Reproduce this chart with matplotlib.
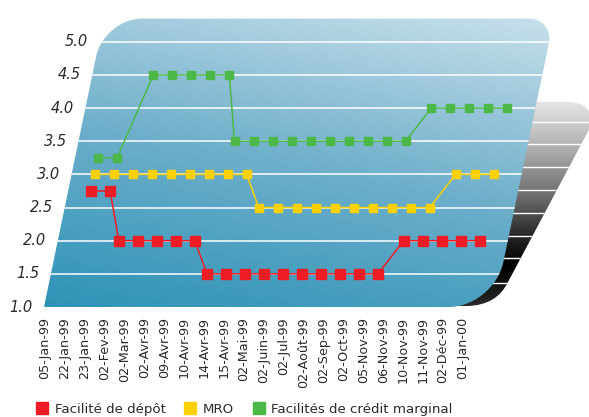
import matplotlib
matplotlib.use('agg')
import numpy as np
import matplotlib.pyplot as plt
from matplotlib.path import Path
from matplotlib.patches import PathPatch
from matplotlib.transforms import Affine2D
from matplotlib.colors import LinearSegmentedColormap
from matplotlib.lines import Line2D

# taux directeurs 1999
dates = ['05-Jan-99', '22-Jan-99', '23-Jan-99', '02-Fev-99', '02-Mar-99',
         '02-Avr-99', '09-Avr-99', '10-Avr-99', '14-Avr-99', '15-Avr-99',
         '02-Mai-99', '02-Juin-99', '02-Jul-99', '02-Août-99', '02-Sep-99',
         '02-Oct-99', '05-Nov-99', '06-Nov-99', '10-Nov-99', '11-Nov-99',
         '02-Déc-99', '01-Jan-00']
depot = [2.75, 2.75, 2.0, 2.0, 2.0, 2.0, 2.0, 1.5, 1.5, 1.5, 1.5,
         1.5, 1.5, 1.5, 1.5, 1.5, 1.5, 2.0, 2.0, 2.0, 2.0, 2.0]
mro = [3.0, 3.0, 3.0, 3.0, 3.0, 3.0, 3.0, 3.0, 3.0, 2.5, 2.5,
       2.5, 2.5, 2.5, 2.5, 2.5, 2.5, 2.5, 2.5, 3.0, 3.0, 3.0]
marginal = [3.25, 3.25, 4.5, 4.5, 4.5, 4.5, 4.5, 3.5, 3.5, 3.5, 3.5,
            3.5, 3.5, 3.5, 3.5, 3.5, 3.5, 4.0, 4.0, 4.0, 4.0, 4.0]
yticks = [1.0, 1.5, 2.0, 2.5, 3.0, 3.5, 4.0, 4.5, 5.0]
ylabels = ['1.0', '1.5', '2.0', '2.5', '3.0', '3.5', '4.0', '4.5', '5.0']
series = [('Facilité de dépôt', depot, '#ee1c25', 7.0),
          ('MRO', mro, '#fdd000', 6.0),
          ('Facilités de crédit marginal', marginal, '#4cb848', 6.0)]

W, H = 589, 417
sx, sy = 19.0, 66.3          # pixels par categorie / par point de taux
x0, ybase = 67.0, 307.0      # position de la categorie 0 au niveau 1.0
k = 13.8 / sx                # inclinaison du plan

fig = plt.figure(figsize=(W / 100.0, H / 100.0), dpi=100)
ax = fig.add_axes([0, 0, 1, 1])
ax.axis('off')
xlim = (-x0 / sx, (W - x0) / sx)
ylim = (1 - (H - ybase) / sy, 1 + ybase / sy)

skew = Affine2D(np.array([[1.0, k, -k], [0.0, 1.0, 0.0], [0.0, 0.0, 1.0]]))
trans = skew + ax.transData
pix = Affine2D().scale(1.0 / W, -1.0 / H).translate(0, 1) + ax.transAxes


def rounded(xa, xb, ya, yb, radii, n=20):
    # radii: bas-gauche, bas-droite, haut-droite, haut-gauche
    pts = []
    rbl, rbr, rtr, rtl = radii
    for cx, cy, r, a0 in [(xa + rbl, ya + rbl, rbl, 180), (xb - rbr, ya + rbr, rbr, 270),
                          (xb - rtr, yb - rtr, rtr, 0), (xa + rtl, yb - rtl, rtl, 90)]:
        ang = np.radians(np.linspace(a0, a0 + 90, n))
        pts += list(zip(cx + r * np.cos(ang), cy + r * np.sin(ang)))
    return np.array(pts)


# --- ombre grise a droite ---
sh_verts = [(460, 102), (568, 102), (592, 102), (592, 124), (508, 282),
            (497, 305), (468, 306), (445, 306), (460, 102)]
sh_codes = [Path.MOVETO, Path.LINETO, Path.CURVE3, Path.CURVE3, Path.LINETO,
            Path.CURVE3, Path.CURVE3, Path.LINETO, Path.CLOSEPOLY]
shadow = PathPatch(Path(sh_verts, sh_codes), transform=pix, facecolor='none',
                   edgecolor='none', zorder=0)
ax.add_patch(shadow)
yy = np.arange(H)[:, None] * np.ones((1, W))
gcm = LinearSegmentedColormap.from_list('gris', [(0.0, '#e4e4e4'), (0.22, '#b0b0b0'),
                                                (0.47, '#686868'), (0.69, '#1a1a1a'),
                                                (0.8, '#000000'), (1.0, '#2a2a2a')])
img = ax.imshow((yy - 102) / 205.0, extent=(0, 1, 0, 1), transform=ax.transAxes,
                cmap=gcm, vmin=0, vmax=1, aspect='auto', origin='upper', zorder=0)
img.set_clip_path(shadow)
for yl in [121.7, 144.3, 166.7, 190, 212.7, 236, 258.3, 283.3]:
    ln = Line2D([430, 600], [yl, yl], transform=pix, color='white', lw=1.0, zorder=0.5)
    ax.add_line(ln)
    ln.set_clip_path(shadow)

# --- plan principal ---
iL, iR, vT = (44 - x0) / sx, (494 - x0) / sx, 5.35
box = rounded(0, (iR - iL) * sx, 0, (vT - 1) * sy, (1, 45, 25, 38))
verts = np.column_stack([iL + box[:, 0] / sx, 1 + box[:, 1] / sy])
plane = PathPatch(Path(verts, closed=False), transform=trans, facecolor='none',
                  edgecolor='none', zorder=1)
ax.add_patch(plane)
xx = np.ones((H, 1)) * np.arange(W)[None, :]
t = 0.75 * (ybase - yy) / 287.0 + 0.25 * (xx - 44) / 500.0
bcm = LinearSegmentedColormap.from_list('bleu', ['#2e93b7', '#6eafcb', '#c6dfea'])
bg = ax.imshow(t, extent=(0, 1, 0, 1), transform=ax.transAxes, cmap=bcm,
               vmin=0, vmax=1, aspect='auto', origin='upper', zorder=1)
bg.set_clip_path(plane)

for v in yticks[1:]:
    ln = Line2D([iL - 2, iR + 2], [v, v], transform=trans, color='white', lw=1.1, zorder=2)
    ax.add_line(ln)
    ln.set_clip_path(plane)

for v, lab in zip(yticks, ylabels):
    ax.text(iL - 0.6, v, lab, transform=trans, ha='right', va='center',
            fontsize=10.5, style='italic', color='#2a2a2a')

# --- series ---
idx = np.arange(len(dates))
handles = []
for name, vals, col, ms in series:
    ax.plot(idx, vals, transform=trans, color=col, lw=1.1, marker='s', ms=ms,
            mec=col, zorder=3, clip_on=False)
    handles.append(Line2D([], [], ls='none', marker='s', ms=8.5, color=col, label=name))

for i, d in enumerate(dates):
    ax.text((45 + 19.9 * i) / W, 1 - 317.0 / H, d, transform=ax.transAxes,
            rotation=90, ha='center', va='top', fontsize=9.2, color='#2a2a2a')

ax.set_xlim(*xlim)
ax.set_ylim(*ylim)

fig.legend(handles=handles, loc='center', bbox_to_anchor=(0.415, 0.019), ncol=3,
           frameon=False, fontsize=9.6, handlelength=0.9, handletextpad=0.5,
           columnspacing=1.4, labelcolor='#2a2a2a')

plt.savefig('out.png', dpi=100)
